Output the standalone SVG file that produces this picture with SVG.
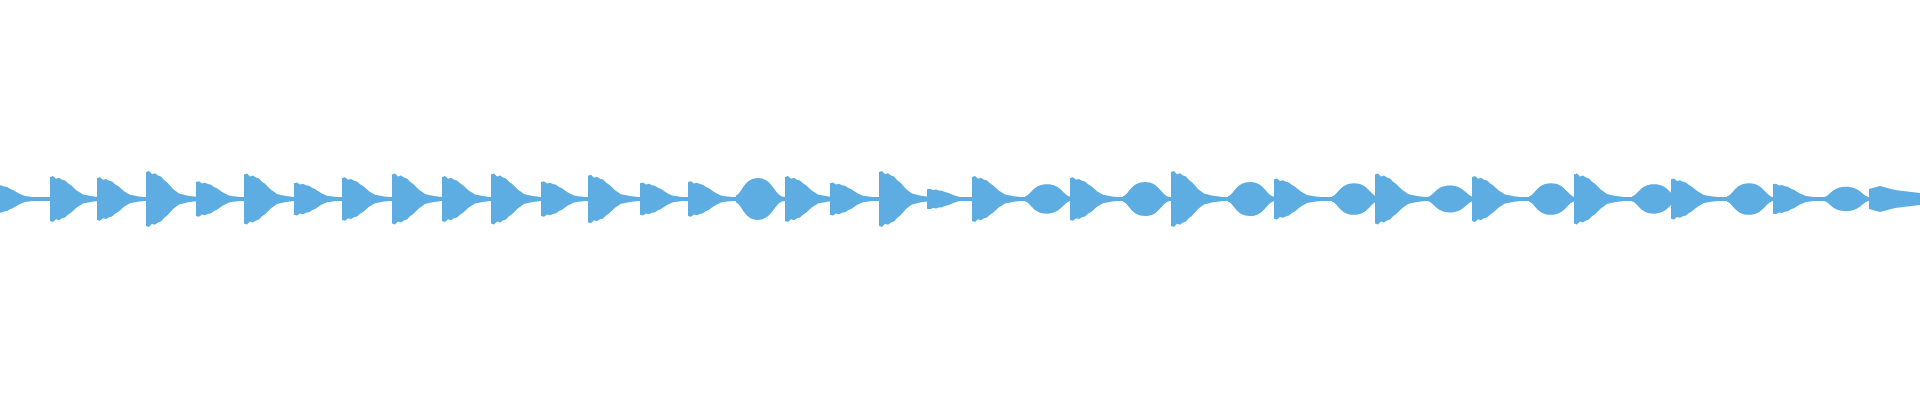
<svg xmlns="http://www.w3.org/2000/svg" width="1920" height="400" viewBox="0 0 1920 400">
<defs>
<style>.w{fill:#5DADE2}</style>
<path id="d" d="M0,-24 L3,-25 L6,-22 L9,-23 L12,-21 L15,-20 L18,-17 L21,-15 L24,-12 L27,-9 L30,-7 L33,-5 L37,-4 L42,-3 L50,-2 L50,2 L42,3 L37,4 L33,5 L30,7 L27,9 L24,12 L21,15 L18,17 L15,20 L12,21 L9,23 L6,22 L3,25 L0,24 Z"/>
<path id="s" d="M0,-4 C6,-6 8,-24 22,-24 C36,-24 38,-6 46,-3 L50,-2 L50,2 L46,3 C38,6 36,24 22,24 C8,24 6,6 0,4 Z"/>
</defs>
<rect width="1920" height="400" fill="#fff"/>
<g class="w">
<rect x="0" y="197" width="1920" height="4"/>
<use href="#d" transform="translate(-8,199) scale(1,0.6)"/>
<use href="#d" transform="translate(50,199) scale(1,0.92)"/>
<use href="#d" transform="translate(97,199) scale(1,0.87)"/>
<use href="#d" transform="translate(146,199) scale(1,1.12)"/>
<use href="#d" transform="translate(196,199) scale(1,0.71)"/>
<use href="#d" transform="translate(244,199) scale(1,1.02)"/>
<use href="#d" transform="translate(294,199) scale(1,0.66)"/>
<use href="#d" transform="translate(342,199) scale(1,0.87)"/>
<use href="#d" transform="translate(392,199) scale(1,1.02)"/>
<use href="#d" transform="translate(442,199) scale(1,0.92)"/>
<use href="#d" transform="translate(491,199) scale(1,1.02)"/>
<use href="#d" transform="translate(541,199) scale(1,0.71)"/>
<use href="#d" transform="translate(588,199) scale(1,0.97)"/>
<use href="#d" transform="translate(640,199) scale(1,0.66)"/>
<use href="#d" transform="translate(688,199) scale(1,0.71)"/>
<use href="#s" transform="translate(736,199) scale(1,0.87)"/>
<use href="#d" transform="translate(785,199) scale(1,0.92)"/>
<use href="#d" transform="translate(830,199) scale(1,0.66)"/>
<use href="#d" transform="translate(879,199) scale(1,1.12)"/>
<use href="#d" transform="translate(927,199) scale(1,0.41)"/>
<use href="#d" transform="translate(972,199) scale(1,0.92)"/>
<use href="#s" transform="translate(1025,199) scale(1,0.61)"/>
<use href="#d" transform="translate(1070,199) scale(1,0.87)"/>
<use href="#s" transform="translate(1123,199) scale(1,0.71)"/>
<use href="#d" transform="translate(1171,199) scale(1,1.12)"/>
<use href="#s" transform="translate(1228,199) scale(1,0.71)"/>
<use href="#d" transform="translate(1274,199) scale(1,0.82)"/>
<use href="#s" transform="translate(1332,199) scale(1,0.66)"/>
<use href="#d" transform="translate(1375,199) scale(1,1.02)"/>
<use href="#s" transform="translate(1428,199) scale(1,0.56)"/>
<use href="#d" transform="translate(1472,199) scale(1,0.92)"/>
<use href="#s" transform="translate(1529,199) scale(1,0.66)"/>
<use href="#d" transform="translate(1574,199) scale(1,1.02)"/>
<use href="#s" transform="translate(1632,199) scale(1,0.61)"/>
<use href="#d" transform="translate(1671,199) scale(1,0.82)"/>
<use href="#s" transform="translate(1727,199) scale(1,0.66)"/>
<use href="#d" transform="translate(1773,199) scale(1,0.61)"/>
<use href="#s" transform="translate(1824,199) scale(1,0.51)"/>
<path d="M1869,189 L1880,186 L1895,190 L1920,193 L1920,205 L1895,208 L1880,212 L1869,209 Z"/>
</g>
</svg>
